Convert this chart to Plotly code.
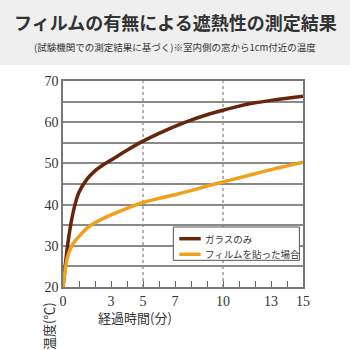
import plotly.graph_objects as go

# ---- data ----
minutes = [0, 0.25, 0.5, 0.75, 1, 1.5, 2, 2.5, 3, 4, 5, 6, 7, 8, 9, 10, 11, 12, 13, 14, 15]
glass_only = [20, 29, 35.5, 40, 43, 46.2, 48.2, 49.6, 50.8, 53.2, 55.4, 57.3, 59, 60.5, 61.8, 62.9, 63.9, 64.7, 65.3, 65.8, 66.3]
with_film = [20, 26.8, 29.6, 31.2, 32.3, 34.3, 35.6, 36.6, 37.5, 39.1, 40.5, 41.5, 42.4, 43.4, 44.5, 45.5, 46.5, 47.5, 48.5, 49.4, 50.3]
series_names = ["ガラスのみ", "フィルムを貼った場合"]
x_tick_labels = [0, 3, 5, 7, 10, 13, 15]
y_tick_labels = [20, 30, 40, 50, 60, 70]
dotted_minutes = [5, 10]

title_text = "フィルムの有無による遮熱性の測定結果"
subtitle_text = "(試験機関での測定結果に基づく)※室内側の窓から1cm付近の温度"
x_title = "経過時間(分)"
y_title = "温度(℃)"

BROWN = "#66260c"
ORANGE = "#f1a01e"
GRID = "#8a8a8a"
TEXT = "#333333"
JP = "Noto Sans CJK JP"
SERIF = "Liberation Serif"
colors = [BROWN, ORANGE]

fig = go.Figure()
for name, vals, col in zip(series_names, [glass_only, with_film], colors):
    fig.add_trace(go.Scatter(x=minutes, y=vals, mode="lines", name=name, showlegend=False,
                             line=dict(color=col, width=3.5, shape="spline", smoothing=0.5)))

for m in dotted_minutes:
    fig.add_shape(type="line", xref="x", yref="paper", x0=m, x1=m, y0=0, y1=1,
                  line=dict(color="#9a9a9a", width=1.5, dash="dot"), layer="below")

# grey title band
fig.add_shape(type="rect", xref="paper", yref="paper", x0=-0.27, x1=1.2, y0=1.078, y1=1.4,
              fillcolor="#efefef", line=dict(width=0), layer="below")

def note(text, x, y, size, angle=0, xanchor="center"):
    fig.add_annotation(text=text, xref="paper", yref="paper", x=x, y=y,
                       xanchor=xanchor, yanchor="middle", showarrow=False,
                       textangle=angle, font=dict(family=JP, size=size, color=TEXT))

note(f"<b>{title_text}</b>", 0.467, 1.286, 18)
note(subtitle_text, 0.467, 1.165, 9.5)
note(x_title, 0.3, -0.15, 13)
note(y_title, -0.063, -0.19, 13, angle=-90)

# legend box (compact, as in the reference)
fig.add_shape(type="rect", xref="paper", yref="paper", x0=0.4596, x1=0.985, y0=0.1296, y1=0.2913,
              fillcolor="white", opacity=1, layer="above", line=dict(color="#555555", width=1))
for i, (name, col) in enumerate(zip(series_names, colors)):
    ly = 0.2345 - i * 0.0758
    fig.add_shape(type="line", xref="paper", yref="paper", x0=0.4846, x1=0.5738, y0=ly, y1=ly,
                  layer="above", line=dict(color=col, width=3.5))
    note(name, 0.5846, ly, 9.5, xanchor="left")

fig.update_layout(
    width=350, height=350,
    margin=dict(l=63, r=47, t=81, b=63),
    paper_bgcolor="white", plot_bgcolor="white",
    showlegend=False,
    xaxis=dict(range=[0, 15], tickvals=x_tick_labels, ticktext=[str(v) for v in x_tick_labels],
               ticks="inside", ticklen=6, tickcolor="#666666", tickwidth=1.2,
               minor=dict(dtick=1, ticks="inside", ticklen=6, tickcolor="#666666", tickwidth=1.2),
               showgrid=False, zeroline=False,
               showline=True, linecolor="#777777", linewidth=1.5, mirror=True,
               tickfont=dict(family=SERIF, size=14, color=TEXT)),
    yaxis=dict(range=[20, 70], tickvals=y_tick_labels, ticks="",
               showgrid=True, gridcolor=GRID, gridwidth=1.5,
               minor=dict(dtick=5, showgrid=True, gridcolor=GRID, gridwidth=1.5),
               zeroline=False,
               showline=True, linecolor="#777777", linewidth=1.5, mirror=True,
               tickfont=dict(family=SERIF, size=14, color=TEXT)),
)

fig.write_html("out.html")
